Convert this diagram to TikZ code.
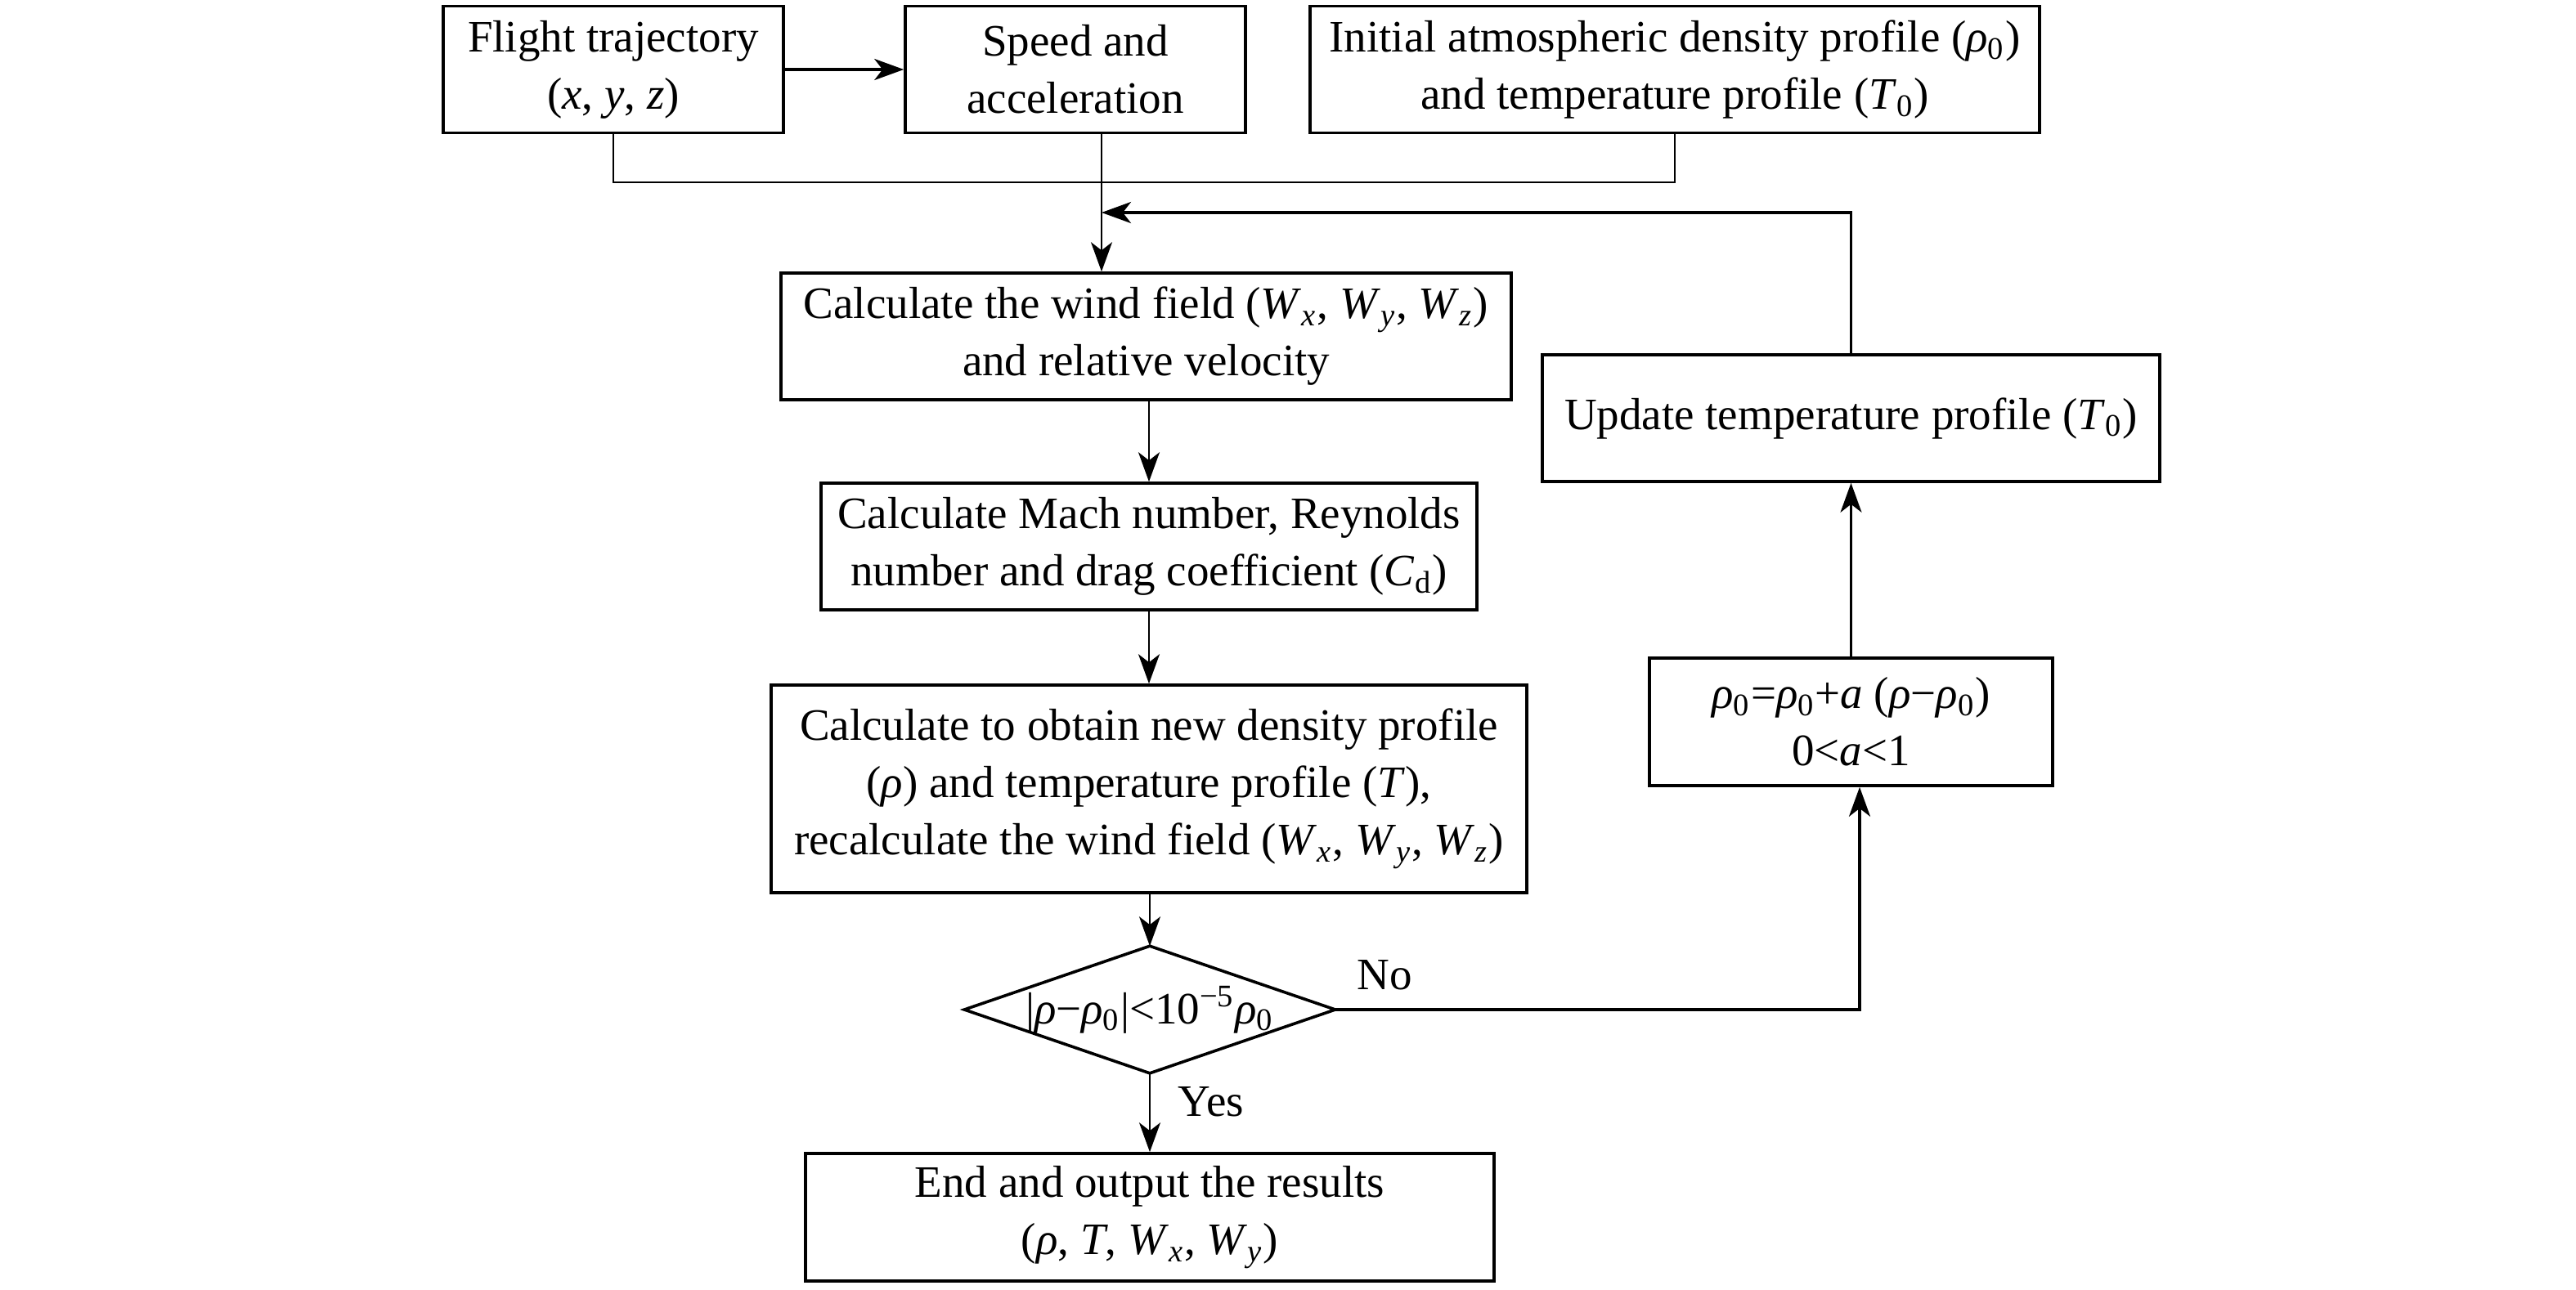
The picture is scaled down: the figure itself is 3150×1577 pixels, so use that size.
\documentclass[tikz,border=0pt]{standalone}
\usepackage{fontspec}
\setmainfont{Liberation Serif}
\usetikzlibrary{arrows.meta}
\newcommand\sbs[1]{\textsubscript{#1}}
\newcommand\vi[1]{\textit{#1}}
\begin{document}
\begin{tikzpicture}[x=0.25pt,y=-0.25pt,
  txt/.style={font=\fontsize{13.75}{17.5}\selectfont},
  box/.style={txt, draw, line width=0.9pt, align=center, inner sep=0pt},
  conn/.style={line width=0.6pt},
  arr/.style={conn, -{Stealth[length=9pt,width=6.5pt,inset=2.5pt]}},
  thk/.style={line width=0.85pt}]
\useasboundingbox (0,0) rectangle (3150,1577);
\fill[white] (0,0) rectangle (3150,1577);
% boxes
\node[box, minimum width=104pt, minimum height=38.75pt] (ft) at (750,85)
  {Flight trajectory\\(\vi{x}, \vi{y}, \vi{z})};
\node[box, minimum width=104pt, minimum height=38.75pt] (speed) at (1315,85)
  {Speed and\\acceleration};
\node[box, minimum width=223pt, minimum height=38.75pt] (init) at (2048,85)
  {Initial atmospheric density profile (\vi{ρ}\sbs{0})\\and temperature profile (\vi{T}\sbs{0})};
\node[box, minimum width=223.25pt, minimum height=38.75pt] (wind) at (1401.5,411.5)
  {Calculate the wind field (\vi{W}\sbs{\vi{x}}, \vi{W}\sbs{\vi{y}}, \vi{W}\sbs{\vi{z}})\\and relative velocity};
\node[box, minimum width=200.5pt, minimum height=38.75pt] (mach) at (1405,668.5)
  {Calculate Mach number, Reynolds\\number and drag coefficient (\vi{C}\sbs{d})};
\node[box, minimum width=231pt, minimum height=63.5pt] (dens) at (1405,965)
  {Calculate to obtain new density profile\\(\vi{ρ}) and temperature profile (\vi{T}),\\recalculate the wind field (\vi{W}\sbs{\vi{x}}, \vi{W}\sbs{\vi{y}}, \vi{W}\sbs{\vi{z}})};
\node[txt, minimum width=113pt, minimum height=38.5pt, inner sep=0pt] (dec) at (1406,1235)
  {|\vi{ρ}−\vi{ρ}\sbs{0}|<10\textsuperscript{−5}\vi{ρ}\sbs{0}};
\draw[line width=0.9pt] (dec.north) -- (dec.east) -- (dec.south) -- (dec.west) -- cycle;
\node[box, minimum width=210.5pt, minimum height=39pt] (end) at (1406,1489)
  {End and output the results\\(\vi{ρ}, \vi{T}, \vi{W}\sbs{\vi{x}}, \vi{W}\sbs{\vi{y}})};
\node[box, minimum width=188.75pt, minimum height=38.75pt] (upd) at (2263.5,511.5)
  {Update temperature profile (\vi{T}\sbs{0})};
\node[box, minimum width=123.25pt, minimum height=39pt] (rho) at (2263.5,883)
  {\vi{ρ}\sbs{0}=\vi{ρ}\sbs{0}+\vi{a} (\vi{ρ}−\vi{ρ}\sbs{0})\\0<\vi{a}<1};
% labels
\node[txt] (no) at (1693,1193) {No};
\node[txt] (yes) at (1481,1348) {Yes};
% helper coordinates
\coordinate (jy) at (0,223);
\coordinate (fb) at (0,260);
\coordinate (sp) at (1347,0);
\coordinate (rx) at (2274,0);
% connectors
\draw[arr, thk] (ft.east) -- (speed.west);
\draw[conn] (ft.south) -- (ft.south |- jy) -| (init.south);
\draw[arr] (speed.south -| sp) -- (wind.north -| sp);
\draw[arr, thk] (upd.north) -- (upd.north |- fb) -- (sp |- fb);
\draw[arr] (mach.north |- wind.south) -- (mach.north);
\draw[arr] (mach.south) -- (dens.north);
\draw[arr] (dec.north |- dens.south) -- (dec.north);
\draw[arr] (dec.south) -- (end.north);
\draw[arr, thk] (dec.east) -| (rho.south -| rx);
\draw[arr] (rho.north) -- (upd.south);
\end{tikzpicture}
\end{document}
